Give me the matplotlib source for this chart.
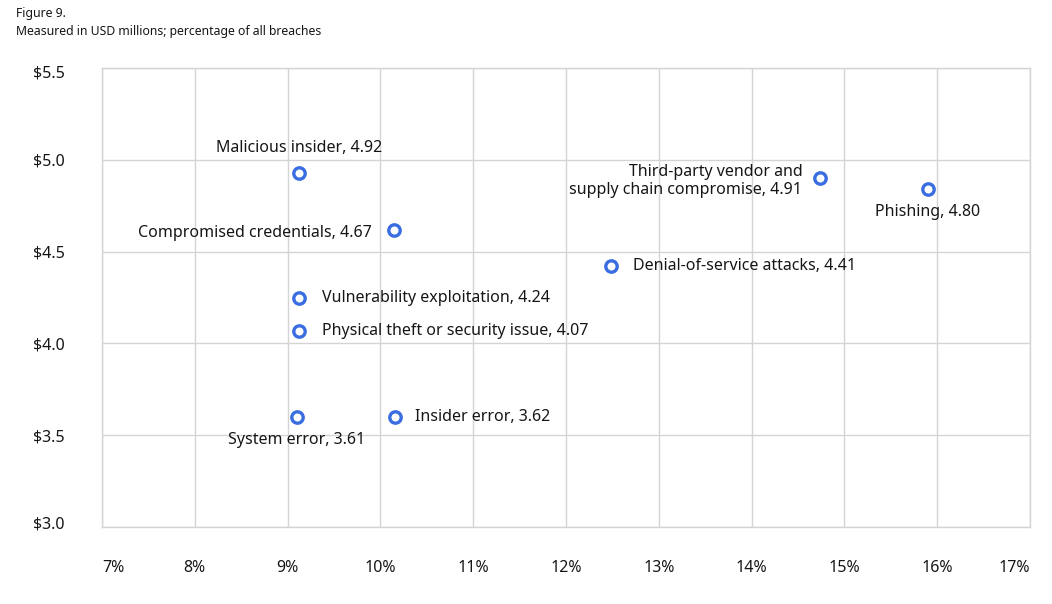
import matplotlib
matplotlib.use("Agg")
import matplotlib.pyplot as plt
import matplotlib.transforms as mtransforms

# Data (share of breaches %, average cost USD millions)
labels = [
    "Malicious insider, 4.92",
    "Third-party vendor and\nsupply chain compromise, 4.91",
    "Phishing, 4.80",
    "Compromised credentials, 4.67",
    "Denial-of-service attacks, 4.41",
    "Vulnerability exploitation, 4.24",
    "Physical theft or security issue, 4.07",
    "System error, 3.61",
    "Insider error, 3.62",
]
share_pct = [9.12, 14.74, 15.90, 10.15, 12.48, 9.12, 9.12, 9.10, 10.16]
cost_musd = [4.93, 4.90, 4.84, 4.62, 4.42, 4.25, 4.065, 3.60, 3.60]
# label placement: (dx px, dy px, ha, va)
placement = [
    (0, 25, "center", "center"),
    (-18, -3, "right", "center"),
    (0, -23, "center", "center"),
    (-23, -3, "right", "center"),
    (22, 0, "left", "center"),
    (23, 0, "left", "center"),
    (23, 0, "left", "center"),
    (0, -23, "center", "center"),
    (20, 0, "left", "center"),
]
x_ticks = [7, 8, 9, 10, 11, 12, 13, 14, 15, 16, 17]
y_ticks = [3.0, 3.5, 4.0, 4.5, 5.0, 5.5]

plt.rcParams["font.family"] = ["Noto Sans", "DejaVu Sans"]
FONT = 11.5
BLUE = "#3a6ee0"
GRID = "#d4d4d4"
TEXT = "#161616"

fig = plt.figure(figsize=(10.52, 6.04), dpi=100)
ax = fig.add_axes([102 / 1052, 1 - 527 / 604, 928 / 1052, 459 / 604])

ax.plot(share_pct, cost_musd, linestyle="none", marker="o", markersize=8.2,
        markerfacecolor="white", markeredgecolor=BLUE, markeredgewidth=2.4, zorder=3)

for x, y, lab, (dx, dy, ha, va) in zip(share_pct, cost_musd, labels, placement):
    ax.annotate(lab, (x, y), xytext=(dx * 0.72, dy * 0.72), textcoords="offset points",
                ha=ha, va=va, fontsize=FONT, color=TEXT, linespacing=1.2, zorder=4)

ax.set_xlim(7, 17)
ax.set_ylim(3.0, 5.5)
ax.set_xticks(x_ticks)
ax.set_xticklabels([f"{v}%" for v in x_ticks])
ax.set_yticks(y_ticks)
ax.set_yticklabels([f"${v:.1f}" for v in y_ticks])
ax.grid(True, color=GRID, linewidth=1)
ax.set_axisbelow(True)
for s in ax.spines.values():
    s.set_color(GRID)
    s.set_linewidth(1)
ax.tick_params(length=0, labelsize=FONT, labelcolor=TEXT)
ax.tick_params(axis="x", pad=24)
ax.tick_params(axis="y", pad=27)

xl = ax.get_xticklabels()
xl[0].set_ha("left")
xl[-1].set_ha("right")
yl = ax.get_yticklabels()
yl[0].set_transform(yl[0].get_transform() + mtransforms.ScaledTranslation(0, 5 / 100, fig.dpi_scale_trans))
yl[-1].set_transform(yl[-1].get_transform() + mtransforms.ScaledTranslation(0, -4 / 100, fig.dpi_scale_trans))

fig.text(16 / 1052, 1 - 14 / 604, "Figure 9.", fontsize=8.8, color=TEXT, va="center")
fig.text(16 / 1052, 1 - 31 / 604, "Measured in USD millions; percentage of all breaches",
         fontsize=8.8, color=TEXT, va="center")

fig.savefig("out.png", dpi=100)
